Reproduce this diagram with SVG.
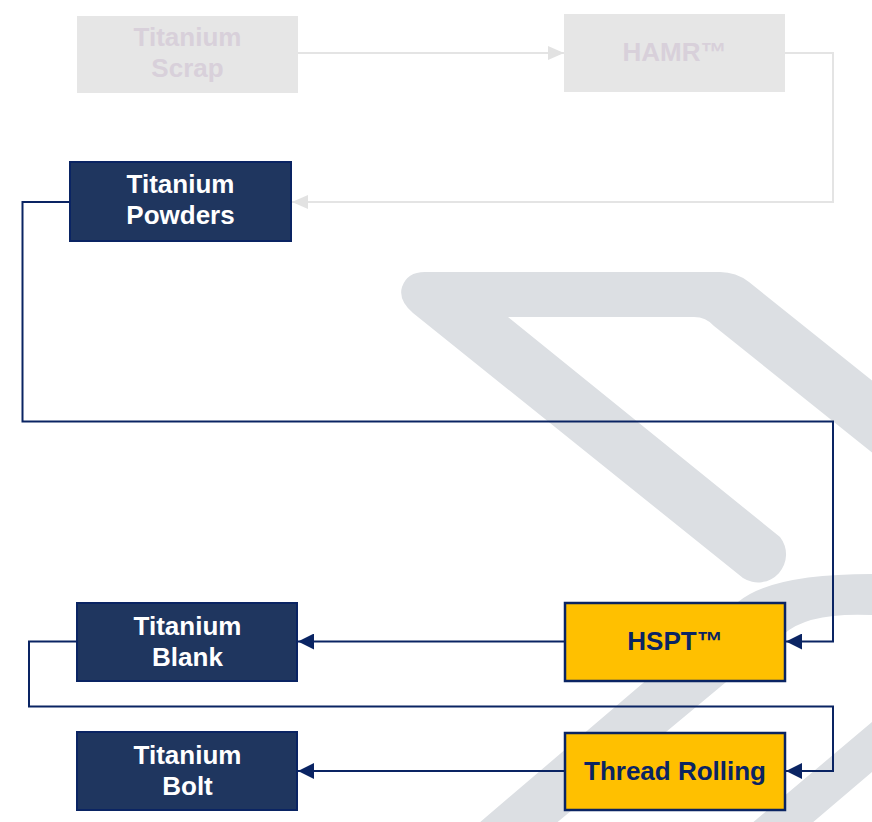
<svg xmlns="http://www.w3.org/2000/svg" width="872" height="822" viewBox="0 0 872 822">
<style>
.bg{fill:#dcdfe3;stroke:none}
.ghost rect{fill:#e6e6e6}
.ghost text{fill:#d8d0da}
.navy rect{fill:#1f365f;stroke:#0a2463;stroke-width:2}
.navy text{fill:#ffffff}
.gold rect{fill:#ffc000;stroke:#0a2463;stroke-width:2.5}
.gold text{fill:#0a2463}
text{font-family:"Liberation Sans",Arial,sans-serif;font-weight:bold;font-size:26px;text-anchor:middle}
.c{fill:none;stroke:#0a2463;stroke-width:2}
.cg{fill:none;stroke:#e4e4e4;stroke-width:2}
</style>
<defs>
<marker id="ah" markerUnits="userSpaceOnUse" markerWidth="16" markerHeight="16" refX="16" refY="8" orient="auto">
<path d="M0,0 L16,8 L0,16 Z" fill="#0a2463"/>
</marker>
<marker id="ahg" markerUnits="userSpaceOnUse" markerWidth="16" markerHeight="16" refX="16" refY="8" orient="auto">
<path d="M0,1 L16,8 L0,15 Z" fill="#e2e2e2"/>
</marker>
</defs>
<rect width="872" height="822" fill="#ffffff"/>
<g id="watermark">
<path class="bg" d="M425 272 L720 272 Q736 272 749 282 L900 403 L900 475 L714 326 Q706 317 694 317 L508 317 L780 537 A28 28 0 0 1 743 578 L413 313 Q398 300 402 287 Q407 272 425 272 Z"/>
<path class="bg" d="M465 835 L738 602 Q771 574 872 574 L900 574 L900 616 L872 615 Q808 612 784 634 L542 835 Z"/>
<path class="bg" d="M738 835 L872 722 L900 698 L900 749 L872 772 L798 835 Z"/>
</g>
<g id="connectors">
<path class="cg" d="M298 53 L564 53" marker-end="url(#ahg)"/>
<path class="cg" d="M785 53 L833 53 L833 202 L292 202" marker-end="url(#ahg)"/>
<path class="c" d="M69 202 L22.5 202 L22.5 421.5 L833 421.5 L833 641.5 L786 641.5" marker-end="url(#ah)"/>
<path class="c" d="M564 641.5 L298 641.5" marker-end="url(#ah)"/>
<path class="c" d="M76 641.5 L29 641.5 L29 706.5 L833 706.5 L833 771 L786 771" marker-end="url(#ah)"/>
<path class="c" d="M564 771 L298 771" marker-end="url(#ah)"/>
</g>
<g id="scrap" class="ghost">
<rect x="77" y="16" width="221" height="77"/>
<text x="187.5" y="46">Titanium</text>
<text x="187.5" y="77">Scrap</text>
</g>
<g id="hamr" class="ghost">
<rect x="564" y="14" width="221" height="78"/>
<text x="674.5" y="61">HAMR™</text>
</g>
<g id="powders" class="navy">
<rect x="70" y="162" width="221" height="79"/>
<text x="180.5" y="193">Titanium</text>
<text x="180.5" y="224">Powders</text>
</g>
<g id="hspt" class="gold">
<rect x="565" y="603" width="220" height="78"/>
<text x="675" y="649.5">HSPT™</text>
</g>
<g id="blank" class="navy">
<rect x="77" y="603" width="220" height="78"/>
<text x="187.5" y="634.5">Titanium</text>
<text x="187.5" y="665.5">Blank</text>
</g>
<g id="threadrolling" class="gold">
<rect x="565" y="733" width="220" height="77"/>
<text x="675" y="780">Thread Rolling</text>
</g>
<g id="bolt" class="navy">
<rect x="77" y="732" width="220" height="78"/>
<text x="187.5" y="763.5">Titanium</text>
<text x="187.5" y="794.5">Bolt</text>
</g>
</svg>
